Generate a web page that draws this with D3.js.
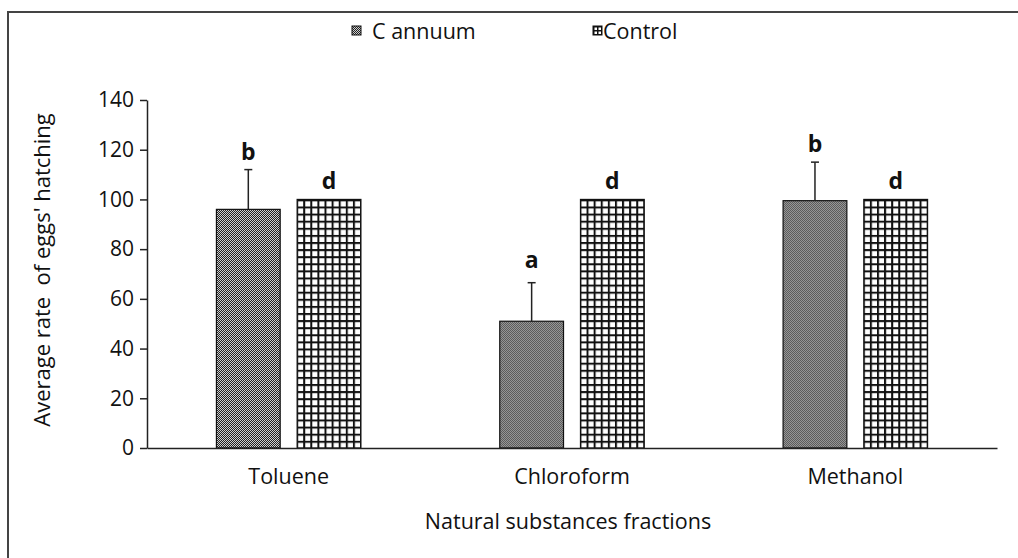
<!DOCTYPE html>
<html>
<head>
<meta charset="utf-8">
<script src="https://cdn.jsdelivr.net/npm/d3@7"></script>
<style>
  body { margin: 0; background: #fff; }
  text { font-family: "Open Sans", "Noto Sans", sans-serif; fill: #111; }
</style>
</head>
<body>
<div class="chart"></div>
<script>
// Data
const categories = ['Toluene', 'Chloroform', 'Methanol'];
const seriesNames = ['C annuum', 'Control'];
const cAnnuum = [96, 51, 99.5];
const control = [100, 100, 100];
const cAnnuumSD = [16, 15.5, 15.5];
const controlSD = [0, 0, 0];
const cAnnuumLetters = ['b', 'a', 'b'];
const controlLetters = ['d', 'd', 'd'];
const yTicks = [0, 20, 40, 60, 80, 100, 120, 140];

const svg_width = 1018;
const svg_height = 558;
const margin = { top: 100, right: 21, bottom: 110, left: 147 };
const chart_width = svg_width - margin.left - margin.right;
const chart_height = svg_height - margin.top - margin.bottom;

const svg = d3.select('.chart').append('svg')
    .attr('width', svg_width).attr('height', svg_height);

// patterns
const defs = svg.append('defs');
const dots = defs.append('pattern').attr('id', 'dots')
    .attr('patternUnits', 'userSpaceOnUse').attr('width', 2).attr('height', 2);
dots.append('rect').attr('width', 2).attr('height', 2).attr('fill', '#d0d0d0');
dots.append('rect').attr('width', 1).attr('height', 1).attr('fill', '#222');
dots.append('rect').attr('x', 1).attr('y', 1).attr('width', 1).attr('height', 1).attr('fill', '#222');

function gridPattern(id, size, lw) {
    const p = defs.append('pattern').attr('id', id)
        .attr('patternUnits', 'userSpaceOnUse').attr('width', size).attr('height', size);
    p.append('rect').attr('width', size).attr('height', size).attr('fill', '#fff');
    p.append('rect').attr('width', lw).attr('height', size).attr('fill', '#111');
    p.append('rect').attr('width', size).attr('height', lw).attr('fill', '#111');
}
gridPattern('grid', 7.1, 2);
gridPattern('gridSmall', 4, 1.5);

// outer frame (only top/left visible in the crop)
svg.append('rect').attr('x', 8).attr('y', 12)
    .attr('width', 1100).attr('height', 700)
    .attr('fill', 'none').attr('stroke', '#444').attr('stroke-width', 2);

const g = svg.append('g').attr('transform', `translate(${margin.left},${margin.top})`);

const x0 = d3.scaleBand().domain(categories).range([0, chart_width]).padding(0);
const x1 = d3.scaleBand().domain(seriesNames).range([0, x0.bandwidth()])
    .paddingInner(0.21).paddingOuter(0.86);
const y = d3.scaleLinear().domain([0, 140]).range([chart_height, 0]);

const rows = categories.map((c, i) => ({
    category: c,
    values: [
        { key: 'C annuum', value: cAnnuum[i], sd: cAnnuumSD[i], letter: cAnnuumLetters[i], fill: 'url(#dots)' },
        { key: 'Control', value: control[i], sd: controlSD[i], letter: controlLetters[i], fill: 'url(#grid)' }
    ]
}));

// y axis
const yAxis = d3.axisLeft(y).tickValues(yTicks).tickSizeInner(7).tickSizeOuter(0).tickPadding(6);
const yAxisDraw = g.append('g').attr('class', 'y axis').call(yAxis);
yAxisDraw.select('.domain').attr('stroke', '#222').attr('stroke-width', 1.5);
yAxisDraw.selectAll('.tick line').attr('stroke', '#222').attr('stroke-width', 1.5);
yAxisDraw.selectAll('text').style('font-size', '21px').style('font-family', '"Open Sans", sans-serif').attr('fill', '#111');

// bars
const groups = g.selectAll('.group').data(rows).enter()
    .append('g').attr('class', 'group')
    .attr('transform', d => `translate(${x0(d.category)},0)`);

groups.selectAll('.bar').data(d => d.values).enter()
    .append('rect').attr('class', 'bar')
    .attr('x', d => x1(d.key))
    .attr('y', d => y(d.value))
    .attr('width', x1.bandwidth())
    .attr('height', d => chart_height - y(d.value))
    .attr('fill', d => d.fill)
    .attr('stroke', '#111').attr('stroke-width', 1.2);

// error bars (upper only)
const err = groups.selectAll('.err').data(d => d.values.filter(v => v.sd > 0)).enter()
    .append('g').attr('class', 'err')
    .attr('transform', d => `translate(${x1(d.key) + x1.bandwidth() / 2},0)`);
err.append('line')
    .attr('y1', d => y(d.value)).attr('y2', d => y(d.value + d.sd))
    .attr('stroke', '#222').attr('stroke-width', 1.5);
err.append('line')
    .attr('x1', -4).attr('x2', 4)
    .attr('y1', d => y(d.value + d.sd)).attr('y2', d => y(d.value + d.sd))
    .attr('stroke', '#222').attr('stroke-width', 1.5);

// significance letters
const tall = /[bdfhklt]/;
groups.selectAll('.letter').data(d => d.values).enter()
    .append('text').attr('class', 'letter')
    .attr('x', d => x1(d.key) + x1.bandwidth() / 2)
    .attr('y', d => y(d.value + d.sd) - (tall.test(d.letter) ? 10 : 15))
    .attr('text-anchor', 'middle')
    .style('font-size', '23px').style('font-weight', 'bold')
    .text(d => d.letter);

// x axis
const xAxis = d3.axisBottom(x0).tickSize(0).tickPadding(21);
const xAxisDraw = g.append('g').attr('class', 'x axis')
    .attr('transform', `translate(0,${chart_height})`)
    .call(xAxis);
xAxisDraw.select('.domain').attr('stroke', '#222').attr('stroke-width', 1.5);
xAxisDraw.selectAll('text').style('font-size', '21.5px').style('font-family', '"Open Sans", sans-serif').attr('fill', '#111');

// axis titles
g.append('text')
    .attr('x', chart_width / 2 - 4).attr('y', chart_height + 81)
    .attr('text-anchor', 'middle').style('font-size', '21.5px')
    .text('Natural substances fractions');

svg.append('text')
    .attr('transform', `translate(50,${margin.top + chart_height / 2 - 4}) rotate(-90)`)
    .attr('text-anchor', 'middle').style('font-size', '22px')
    .text("Average rate\u00a0 of eggs' hatching");

// legend
const legendX = [352, 593];
const legendTextDx = [20, 10];
const legendFill = ['url(#dots)', 'url(#gridSmall)'];
const legend = svg.selectAll('.legend').data(seriesNames).enter()
    .append('g').attr('class', 'legend')
    .attr('transform', (d, i) => `translate(${legendX[i]},26)`);
legend.append('rect').attr('width', 9).attr('height', 9)
    .attr('fill', (d, i) => legendFill[i]).attr('stroke', '#111').attr('stroke-width', 1);
legend.append('text').attr('x', (d, i) => legendTextDx[i]).attr('y', 13)
    .style('font-size', '21.5px').text(d => d);
</script>
</body>
</html>
